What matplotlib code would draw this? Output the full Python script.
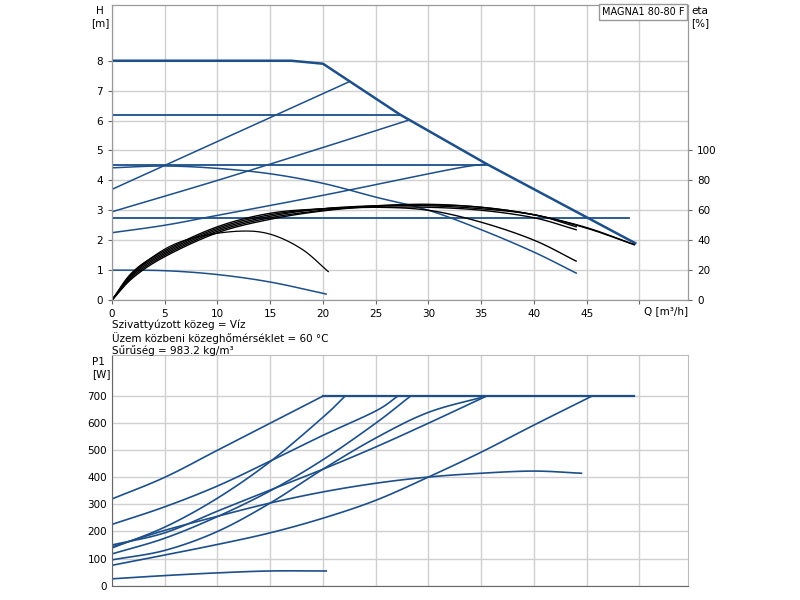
import matplotlib
matplotlib.use("Agg")
import matplotlib.pyplot as plt
import numpy as np

BLUE = "#1d4f8a"

# ---- top chart data (Q [m3/h], H [m]) ----
max_q = [0, 10, 17, 20, 27.3, 35.5, 49.6]
max_h = [8.0, 8.0, 8.0, 7.9, 6.2, 4.55, 1.9]
cp_levels = [6.2, 4.5, 2.75]
cp_ends = [27.3, 35.5, 49.0]
pp1_q = [0, 5, 10, 15, 22.5]; pp1_h = [3.7, 4.5, 5.3, 6.1, 7.3]
pp2_q = [0, 10, 20, 28];      pp2_h = [2.95, 4.0, 5.1, 6.0]
pp3_q = [0, 5, 10, 20, 32, 35.5]; pp3_h = [2.25, 2.5, 2.83, 3.5, 4.36, 4.55]
pc_q = [0, 5, 10, 15, 20, 25, 30, 35, 40, 44]
pc_h = [4.42, 4.48, 4.4, 4.22, 3.9, 3.44, 3.0, 2.35, 1.6, 0.9]
min_q = [0, 5, 10, 15, 20.3]; min_h = [1.0, 0.98, 0.85, 0.6, 0.2]

# efficiency curves drawn in H-axis units (eta axis scaled to match)
eta_small_q = [0, 2, 5, 8, 12, 15, 18, 20.5]
eta_small_h = [0, 0.9, 1.7, 2.1, 2.3, 2.2, 1.7, 0.95]
eta_q1 = [0, 2, 5, 10, 15, 20, 25, 30, 35, 40, 44]
eta_h1 = [0, 0.9, 1.6, 2.4, 2.85, 3.05, 3.1, 3.0, 2.6, 2.0, 1.3]
eta_h2 = [0, 0.85, 1.55, 2.35, 2.8, 3.05, 3.15, 3.15, 3.05, 2.85, 2.45]
eta_h5 = [0, 0.95, 1.65, 2.45, 2.9, 3.05, 3.1, 3.1, 3.0, 2.75, 2.35]
eta_q3 = [0, 2, 5, 10, 15, 20, 25, 30, 35, 40, 45, 49.5]
eta_h3 = [0, 0.8, 1.5, 2.3, 2.75, 3.0, 3.15, 3.2, 3.1, 2.85, 2.4, 1.85]
eta_h4 = [0, 0.75, 1.45, 2.25, 2.7, 2.98, 3.13, 3.18, 3.1, 2.85, 2.42, 1.85]

# ---- bottom chart data (Q, P1 [W]) ----
p_max_level = 700
p_max_range = [20, 49.5]
p_curves = [
    ([0, 5, 10, 15, 20], [320, 400, 500, 600, 700]),
    ([0, 5, 10, 15, 20, 25, 27.1], [226, 291, 368, 460, 555, 645, 700]),
    ([0, 5, 10, 15, 20, 22.1], [139, 216, 323, 458, 622, 700]),
    ([0, 5, 10, 15, 20, 25, 28.3], [117, 175, 255, 350, 465, 600, 700]),
    ([0, 5, 10, 15, 20, 25, 30, 35.5], [150, 195, 275, 353, 430, 512, 600, 700]),
    ([0, 5, 10, 15, 20, 25, 30, 35.5], [95, 130, 200, 305, 430, 545, 640, 700]),
    ([0, 5, 10, 15, 20, 25, 30, 35, 40, 45.5], [75, 113, 152, 195, 249, 315, 401, 493, 593, 700]),
    ([0, 5, 10, 15, 20, 25, 30, 35, 40, 44.5], [143, 204, 256, 305, 346, 378, 401, 415, 423, 415]),
    ([0, 5, 10, 15, 20.3], [25, 37, 47, 54, 54]),
]


def smooth(x, y, n=12):
    """Catmull-Rom drawing path through the read points."""
    x = np.asarray(x, float); y = np.asarray(y, float)
    P = np.column_stack([x, y])
    P = np.vstack([2 * P[0] - P[1], P, 2 * P[-1] - P[-2]])
    out = []
    t = np.linspace(0, 1, n, endpoint=False)[:, None]
    for i in range(1, len(P) - 2):
        p0, p1, p2, p3 = P[i - 1], P[i], P[i + 1], P[i + 2]
        seg = 0.5 * ((2 * p1) + (-p0 + p2) * t + (2 * p0 - 5 * p1 + 4 * p2 - p3) * t ** 2
                     + (-p0 + 3 * p1 - 3 * p2 + p3) * t ** 3)
        out.append(seg)
    out.append(P[-2][None, :])
    o = np.vstack(out)
    return o[:, 0], o[:, 1]


fig = plt.figure(figsize=(8, 6), dpi=100)
ax = fig.add_axes([0.14, 0.5, 0.72, 0.492])
ax.set_xlim(0, 54.6); ax.set_ylim(0, 9.87)
ax.set_xticks(range(0, 51, 5)); ax.set_xticklabels([str(v) for v in range(0, 46, 5)] + [""])
ax.set_yticks(range(0, 9))
ax.grid(True, color="#d0d0d0", lw=1)
ax.set_axisbelow(True)
for s in ax.spines.values(): s.set_color("#999999")
ax.tick_params(labelsize=7.5, length=3, color="#666666")

ax.plot(max_q, max_h, color=BLUE, lw=1.8)
for lvl, e in zip(cp_levels, cp_ends):
    ax.plot([0, e], [lvl, lvl], color=BLUE, lw=1.3)
for q, h in [(pp1_q, pp1_h), (pp2_q, pp2_h), (pp3_q, pp3_h), (pc_q, pc_h), (min_q, min_h)]:
    ax.plot(*smooth(q, h), color=BLUE, lw=1.1)
ax.plot(*smooth(eta_small_q, eta_small_h), color="black", lw=0.9)
for q, h in [(eta_q1, eta_h1), (eta_q1, eta_h2), (eta_q1, eta_h5), (eta_q3, eta_h3), (eta_q3, eta_h4)]:
    ax.plot(*smooth(q, h), color="black", lw=1.0)

ax2 = ax.twinx()
ax2.set_ylim(0, 9.87 * 100 / 5.03)
ax2.set_yticks(range(0, 101, 20))
ax2.tick_params(labelsize=7.5, length=3, color="#666666")
for s in ax2.spines.values(): s.set_color("#999999")

fig.text(0.125, 0.99, "H\n[m]", fontsize=7.5, ha="center", va="top")
fig.text(0.875, 0.99, "eta\n[%]", fontsize=7.5, ha="center", va="top")
ax.text(52.5, -0.2, "Q [m³/h]", fontsize=7.5, ha="center", va="top")
fig.text(0.855, 0.988, "MAGNA1 80-80 F", fontsize=7, ha="right", va="top",
         bbox=dict(facecolor="white", edgecolor="#999999", pad=2))
fig.text(0.14, 0.458, "Szivattyúzott közeg = Víz", fontsize=7.5, va="center")
fig.text(0.14, 0.437, "Üzem közbeni közeghőmérséklet = 60 °C", fontsize=7.5, va="center")
fig.text(0.14, 0.416, "Sűrűség = 983.2 kg/m³", fontsize=7.5, va="center")

bx = fig.add_axes([0.14, 0.024, 0.72, 0.384])
bx.set_xlim(0, 54.6); bx.set_ylim(0, 851)
bx.set_xticks(range(0, 51, 5)); bx.set_xticklabels([])
bx.set_yticks(range(0, 701, 100))
bx.grid(True, color="#d0d0d0", lw=1)
bx.set_axisbelow(True)
for s in bx.spines.values(): s.set_color("#bbbbbb")
bx.spines["left"].set_color("#666666"); bx.spines["bottom"].set_color("#666666")
bx.tick_params(labelsize=7.5, length=0)
bx.plot(p_max_range, [p_max_level, p_max_level], color=BLUE, lw=1.6)
for q, p in p_curves:
    bx.plot(*smooth(q, p), color=BLUE, lw=1.2)
fig.text(0.115, 0.405, "P1\n[W]", fontsize=7.5, ha="left", va="top")

fig.savefig("out.png", dpi=100)
